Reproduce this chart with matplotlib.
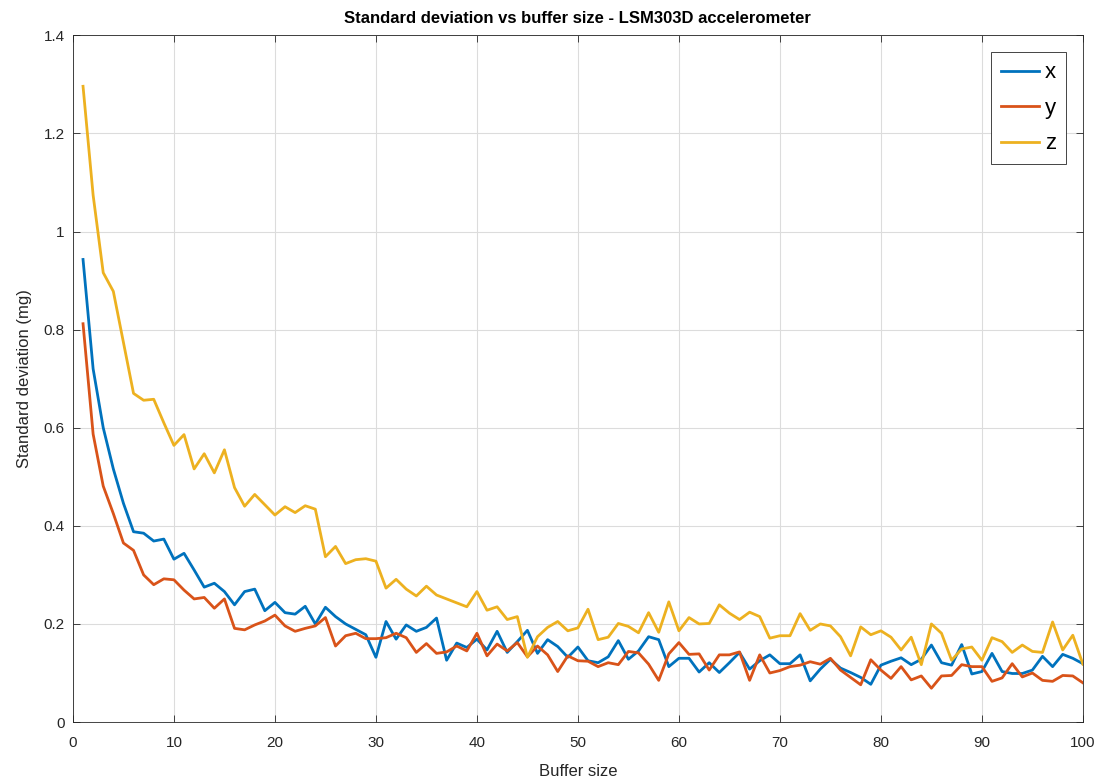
import matplotlib
matplotlib.use('Agg')
import matplotlib.pyplot as plt
import numpy as np

plt.rcParams['font.family'] = ['Liberation Sans', 'DejaVu Sans']

# standard deviation per buffer size (mg), buffers 1..100
buffer_size = np.arange(1, 101)

std_x = [0.943, 0.720, 0.600, 0.516, 0.446, 0.388, 0.385, 0.369, 0.373, 0.332,
         0.344, 0.310, 0.275, 0.283, 0.266, 0.239, 0.266, 0.271, 0.227, 0.244,
         0.223, 0.220, 0.236, 0.200, 0.234, 0.215, 0.200, 0.189, 0.178, 0.132,
         0.205, 0.169, 0.198, 0.185, 0.193, 0.212, 0.126, 0.161, 0.152, 0.169,
         0.147, 0.185, 0.142, 0.164, 0.187, 0.140, 0.168, 0.154, 0.132, 0.153,
         0.125, 0.121, 0.133, 0.166, 0.128, 0.145, 0.174, 0.168, 0.113, 0.130,
         0.130, 0.102, 0.121, 0.101, 0.121, 0.142, 0.108, 0.125, 0.137, 0.119,
         0.119, 0.137, 0.084, 0.108, 0.128, 0.110, 0.101, 0.091, 0.077, 0.116,
         0.124, 0.131, 0.117, 0.128, 0.157, 0.121, 0.116, 0.158, 0.098, 0.103,
         0.140, 0.103, 0.099, 0.099, 0.106, 0.134, 0.113, 0.138, 0.130, 0.119]

std_y = [0.812, 0.587, 0.481, 0.425, 0.365, 0.350, 0.300, 0.280, 0.292, 0.290,
         0.269, 0.251, 0.254, 0.232, 0.251, 0.191, 0.188, 0.198, 0.206, 0.218,
         0.196, 0.185, 0.191, 0.196, 0.213, 0.155, 0.176, 0.181, 0.170, 0.170,
         0.172, 0.181, 0.172, 0.142, 0.160, 0.140, 0.143, 0.155, 0.145, 0.181,
         0.135, 0.159, 0.145, 0.162, 0.133, 0.155, 0.137, 0.103, 0.135, 0.125,
         0.124, 0.113, 0.121, 0.117, 0.144, 0.141, 0.118, 0.085, 0.139, 0.162,
         0.138, 0.139, 0.106, 0.137, 0.137, 0.143, 0.085, 0.137, 0.100, 0.105,
         0.113, 0.116, 0.123, 0.118, 0.130, 0.106, 0.091, 0.076, 0.127, 0.106,
         0.089, 0.113, 0.086, 0.094, 0.069, 0.094, 0.095, 0.117, 0.113, 0.113,
         0.083, 0.090, 0.119, 0.092, 0.100, 0.085, 0.083, 0.095, 0.094, 0.080]

std_z = [1.296, 1.074, 0.916, 0.878, 0.774, 0.670, 0.656, 0.658, 0.610, 0.564,
         0.586, 0.516, 0.547, 0.508, 0.555, 0.478, 0.440, 0.464, 0.443, 0.422,
         0.439, 0.427, 0.441, 0.434, 0.337, 0.358, 0.323, 0.331, 0.333, 0.328,
         0.273, 0.291, 0.271, 0.257, 0.277, 0.259, 0.251, 0.243, 0.235, 0.266,
         0.228, 0.235, 0.209, 0.215, 0.132, 0.174, 0.193, 0.205, 0.186, 0.192,
         0.230, 0.168, 0.173, 0.201, 0.195, 0.182, 0.223, 0.183, 0.245, 0.186,
         0.213, 0.200, 0.201, 0.239, 0.222, 0.209, 0.224, 0.215, 0.171, 0.176,
         0.176, 0.221, 0.187, 0.200, 0.196, 0.174, 0.135, 0.194, 0.178, 0.186,
         0.173, 0.147, 0.173, 0.117, 0.200, 0.181, 0.126, 0.149, 0.153, 0.126,
         0.172, 0.164, 0.142, 0.157, 0.144, 0.142, 0.204, 0.147, 0.177, 0.118]

# matlab default line colours
colors = ['#0072BD', '#D95319', '#EDB120']
axis_col = '#262626'

fig = plt.figure(figsize=(11.05, 7.84), dpi=100)
ax = fig.add_axes([0.066, 0.079, 0.914, 0.876])

for vals, name, c in zip([std_x, std_y, std_z], ['x', 'y', 'z'], colors):
    ax.plot(buffer_size, vals, color=c, linewidth=2, label=name)

ax.set_xlim(0, 100)
ax.set_ylim(0, 1.4)
ax.set_xticks(np.arange(0, 101, 10))
ax.set_yticks(np.arange(0, 1.41, 0.2))
ax.set_yticklabels(['0', '0.2', '0.4', '0.6', '0.8', '1', '1.2', '1.4'])

ax.grid(True, color='#dcdcdc', linewidth=0.8)
ax.set_axisbelow(True)
for sp in ax.spines.values():
    sp.set_color(axis_col)
    sp.set_linewidth(0.6)
ax.tick_params(direction='in', length=5, width=0.6, colors=axis_col,
               labelsize=11, top=True, right=True)
ax.tick_params(axis='x', pad=10)
ax.tick_params(axis='y', pad=6)

ax.set_xlabel('Buffer size', fontsize=12, color=axis_col, labelpad=10)
ax.set_ylabel('Standard deviation (mg)', fontsize=12, color=axis_col, labelpad=8)
ax.set_title('Standard deviation vs buffer size - LSM303D accelerometer',
             fontsize=12, fontweight='bold', color='black', pad=9)

leg = ax.legend(loc='upper right', bbox_to_anchor=(1.0, 1.0), fontsize=16,
                fancybox=False, framealpha=1, handlelength=1.7,
                handletextpad=0.25, borderpad=0.45, borderaxespad=0.77,
                labelspacing=0.65)
leg.get_frame().set_edgecolor(axis_col)
leg.get_frame().set_linewidth(0.6)

fig.savefig('out.png', dpi=100)
